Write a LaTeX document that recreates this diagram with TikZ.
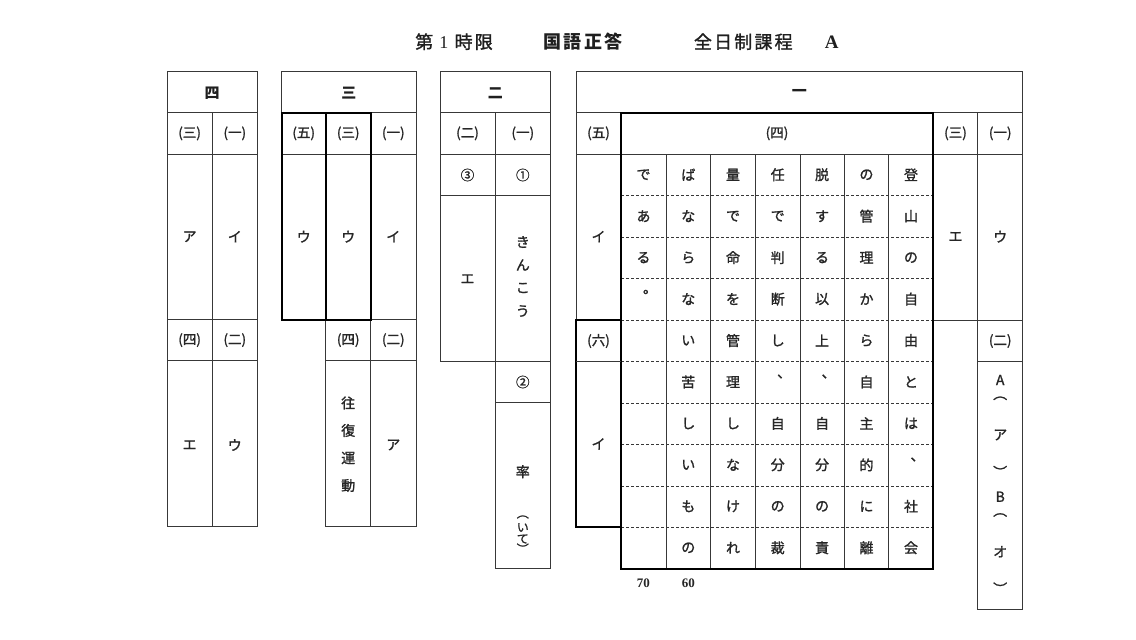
\documentclass[tikz,border=0pt]{standalone}
\usepackage{fontspec}
\setmainfont{Noto Sans CJK JP}
\newfontfamily\jpm{Noto Sans CJK JP}[FakeBold=1.3]
\newfontfamily\serifA{Liberation Serif}
\begin{document}
\begin{tikzpicture}[x=1pt,y=-1pt,
  ln/.style={line width=0.9pt, draw=black!78},
  thk/.style={line width=2pt, draw=black},
  dsh/.style={line width=0.8pt, draw=black!78, dash pattern=on 3pt off 2pt},
  cell/.style={inner sep=0pt, text=black!85, font=\jpm\fontsize{14}{14}\selectfont},
  head/.style={inner sep=0pt, text=black!88, font=\fontsize{15}{15}\selectfont\bfseries},
  sub/.style={inner sep=0pt, text=black!85, font=\jpm\fontsize{13.5}{13.5}\selectfont},
  small/.style={inner sep=0pt, text=black!85, font=\jpm\fontsize{12}{12}\selectfont},
  ttl/.style={inner sep=0pt, text=black!88, font=\jpm\fontsize{18}{18}\selectfont\addfontfeature{LetterSpace=12}},
  num/.style={inner sep=0pt, text=black!85, font=\serifA\fontsize{13}{13}\selectfont\bfseries}
  ]
\useasboundingbox (0,0) rectangle (1136,640);
\fill[white] (0,0) rectangle (1136,640);

% ---------- title ----------
\node[ttl] (t1) at (454,41.7) {第 {\serifA 1} 時限};
\node[ttl,font=\fontsize{18}{18}\selectfont\bfseries\addfontfeature{LetterSpace=12}] (t2) at (583,41.7) {国語正答};
\node[ttl] (t3) at (743.3,41.7) {全日制課程};
\node[inner sep=0pt, text=black!88, font=\serifA\fontsize{19}{19}\selectfont\bfseries] (t4) at (831.7,42.5) {A};

% ---------- 四 ----------
\draw[ln] (167,71.7) rectangle (257.3,526);
\draw[ln] (167,112.7) -- (257.3,112.7) (167,154) -- (257.3,154)
          (167,319.5) -- (257.3,319.5) (167,360.7) -- (257.3,360.7)
          (212.3,112.7) -- (212.3,526);
\node[head] (h4) at (212.2,93) {四};
\node[sub] (s4a) at (189.6,133.4) {(三)};
\node[sub] (s4b) at (234.8,133.4) {(一)};
\node[cell] (a4a) at (189.6,236.7) {ア};
\node[cell] (a4b) at (234.8,236.7) {イ};
\node[sub] (s4c) at (189.6,340.1) {(四)};
\node[sub] (s4d) at (234.8,340.1) {(二)};
\node[cell] (a4c) at (189.6,445) {エ};
\node[cell] (a4d) at (234.8,445) {ウ};

% ---------- 三 ----------
\draw[ln] (281.7,71.7) rectangle (416,319.5);
\draw[ln] (281.7,112.7) -- (416,112.7) (281.7,154) -- (416,154)
          (370.7,112.7) -- (370.7,526)
          (325.7,319.5) -- (325.7,526) -- (416,526) -- (416,319.5)
          (325.7,360.7) -- (416,360.7);
\draw[thk] (281.7,113.3) rectangle (370.7,319.5) (325.7,113.3) -- (325.7,319.5);
\node[head] (h3) at (348.8,93) {三};
\node[sub] (s3a) at (303.7,133.4) {(五)};
\node[sub] (s3b) at (348.2,133.4) {(三)};
\node[sub] (s3c) at (393.3,133.4) {(一)};
\node[cell] (a3a) at (303.7,236.7) {ウ};
\node[cell] (a3b) at (348.2,236.7) {ウ};
\node[cell] (a3c) at (393.3,236.7) {イ};
\node[sub] (s3d) at (348.2,340.1) {(四)};
\node[sub] (s3e) at (393.3,340.1) {(二)};
\node[cell] (a3d1) at (348.2,403) {往};
\node[cell] (a3d2) at (348.2,430.5) {復};
\node[cell] (a3d3) at (348.2,458) {運};
\node[cell] (a3d4) at (348.2,485.5) {動};
\node[cell] (a3e) at (393.3,445) {ア};

% ---------- 二 ----------
\draw[ln] (440,71.7) rectangle (550.7,361);
\draw[ln] (440,112.7) -- (550.7,112.7) (440,154) -- (550.7,154)
          (440,195.7) -- (550.7,195.7)
          (495,112.7) -- (495,568.3) -- (550.7,568.3) -- (550.7,361)
          (495,402.3) -- (550.7,402.3);
\node[head] (h2) at (495.3,93) {二};
\node[sub] (s2a) at (467.5,133.4) {(二)};
\node[sub] (s2b) at (522.8,133.4) {(一)};
\node[sub] (c3) at (467.5,175) {③};
\node[sub] (c1) at (522.8,175) {①};
\node[cell] (a2a) at (467.5,279) {エ};
\node[cell] (a2b1) at (522.8,242) {き};
\node[cell] (a2b2) at (522.8,265) {ん};
\node[cell] (a2b3) at (522.8,288) {こ};
\node[cell] (a2b4) at (522.8,311) {う};
\node[sub] (c2) at (522.8,382) {②};
\node[cell] (a2c1) at (522.8,471.7) {率};
\node[small] (a2c2) at (522.8,517) {︵};
\node[small] (a2c3) at (522.8,527.5) {い};
\node[small] (a2c4) at (522.8,539) {て};
\node[small] (a2c5) at (522.8,548.5) {︶};

% ---------- 一 ----------
\draw[ln] (576,320) -- (576,71.7) -- (1022.7,71.7) -- (1022.7,609.3) -- (977.8,609.3) -- (977.8,112.7);
\draw[ln] (576,112.7) -- (1022.7,112.7) (576,154) -- (1022.7,154)
          (933.3,320) -- (1022.7,320) (977.8,361.7) -- (1022.7,361.7);
\foreach \x in {666,710.7,755.3,800,844.3,888.7}
  \draw[ln] (\x,154) -- (\x,568.5);
\foreach \y in {195.5,237,278.5,320,361.5,403,444.5,486,527.2}
  \draw[dsh] (621,\y) -- (933.3,\y);
\draw[thk] (621,113.3) rectangle (933.3,568.5);
\draw[thk] (576,320) rectangle (621,527);
\draw[ln] (576,361.7) -- (621,361.7);

\node[head] (h1) at (799.3,93) {一};
\node[sub] (s1a) at (598.5,133.4) {(五)};
\node[sub] (s1b) at (777,133.4) {(四)};
\node[sub] (s1c) at (955.5,133.4) {(三)};
\node[sub] (s1d) at (1000.2,133.4) {(一)};
\node[cell] (a1a) at (598.5,236.7) {イ};
\node[cell] (a1c) at (955.5,236.7) {エ};
\node[cell] (a1d) at (1000.2,236.7) {ウ};
\node[sub] (s1e) at (598.5,341) {(六)};
\node[cell] (a1e) at (598.5,444) {イ};
\node[sub] (s1f) at (1000.2,341) {(二)};
\node[cell] (b1) at (1000.2,380) {A};
\node[cell] (b2) at (1000.2,398.3) {︵};
\node[cell] (b3) at (1000.2,435) {ア};
\node[cell] (b4) at (1000.2,471.7) {︶};
\node[cell] (b5) at (1000.2,496.7) {B};
\node[cell] (b6) at (1000.2,515) {︵};
\node[cell] (b7) at (1000.2,551.7) {オ};
\node[cell] (b8) at (1000.2,588.3) {︶};

% grid characters (columns right to left)
\foreach \cx/\chars [count=\k] in {
  911/{登,山,の,自,由,と,は,{},社,会},
  866.5/{の,管,理,か,ら,自,主,的,に,離},
  822.1/{脱,す,る,以,上,{},自,分,の,責},
  777.7/{任,で,判,断,し,{},自,分,の,裁},
  733/{量,で,命,を,管,理,し,な,け,れ},
  688.3/{ば,な,ら,な,い,苦,し,い,も,の},
  643.5/{で,あ,る,{}}} {
  \foreach \ch [count=\r] in \chars {
    \node[cell] (g-\k-\r) at (\cx,{154+41.45*(\r-0.5)}) {\ch};
  }
}
% punctuation
\node[cell] (p1) at (917.5,459.5) {、};
\node[cell] (p2) at (828.6,376.5) {、};
\node[cell] (p3) at (784.2,376.5) {、};
\node[cell] (p4) at (650,292) {。};

\node[num] (n70) at (643.3,583.3) {70};
\node[num] (n60) at (688.3,583.3) {60};
\end{tikzpicture}
\end{document}
